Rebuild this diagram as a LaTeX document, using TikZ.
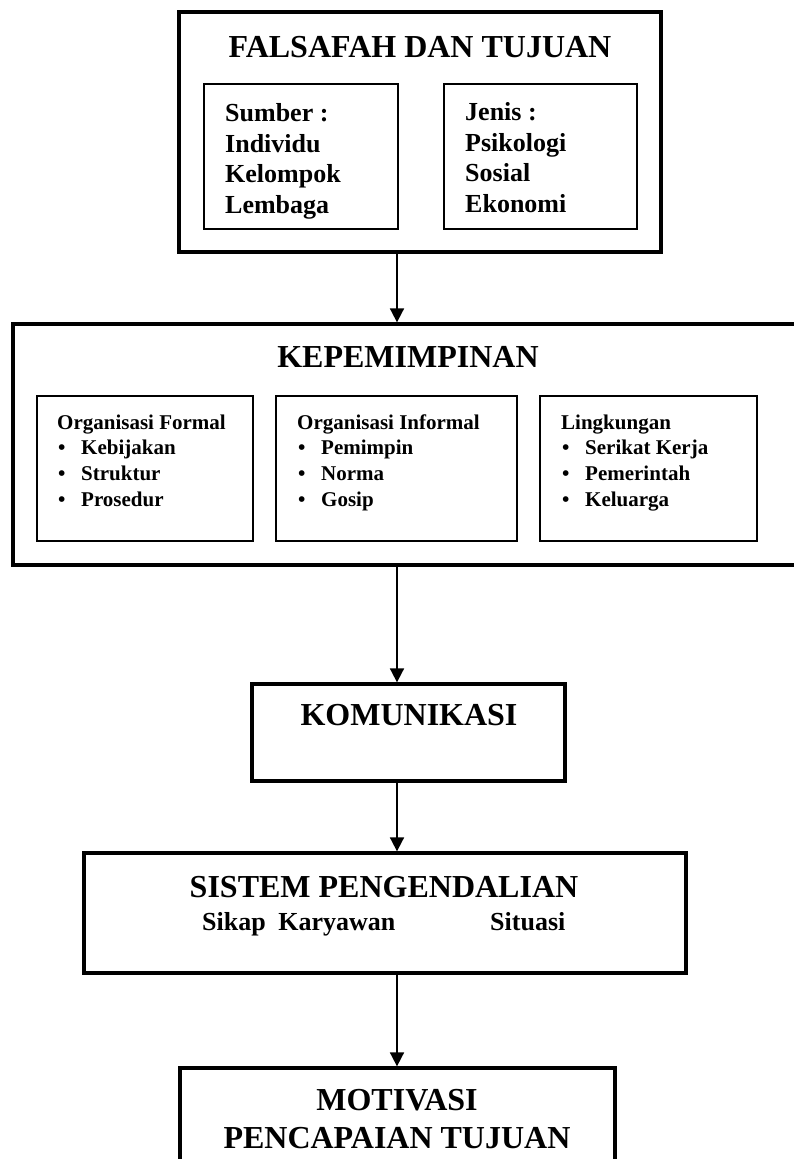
\documentclass[tikz,border=0pt]{standalone}
\usepackage{fontspec}
\setmainfont{Liberation Serif}
\usetikzlibrary{arrows.meta}

\tikzset{
  bigbox/.style={draw, line width=3.3pt, inner sep=0pt},
  smallbox/.style={draw, line width=1.8pt, inner sep=0pt},
  flow/.style={line width=1.8pt, -{Triangle[width=14pt,length=14pt]}},
  title/.style={font=\fontsize{32}{36}\selectfont\bfseries, inner sep=0pt, text height=21.5pt, text depth=0pt},
  bigline/.style={font=\fontsize{26}{30}\selectfont\bfseries, inner sep=0pt, anchor=west, text height=17pt, text depth=0pt},
  smallline/.style={font=\fontsize{21}{25}\selectfont\bfseries, inner sep=0pt, anchor=west, text height=14pt, text depth=0pt}
}

\begin{document}
\begin{tikzpicture}[x=1pt,y=-1pt]
    \useasboundingbox (0,0) rectangle (794,1159);
    \clip (0,0) rectangle (794,1159);
    \coordinate (axis) at (397,0);

    % Falsafah
    \node[bigbox, minimum width=482pt, minimum height=240pt] (falsafah) at (420,132) {};
    \node[smallbox, minimum width=194pt, minimum height=145pt] (sumber) at (301,156.5) {};
    \node[smallbox, minimum width=193pt, minimum height=145pt] (jenis) at (540.5,156.5) {};
    \node[title] (falsafah-t) at (420,47) {FALSAFAH DAN TUJUAN};
    \foreach \t [count=\i] in {Sumber :, Individu, Kelompok, Lembaga}
        \node[bigline] (sumber-\i) at (225,{82.3+30.7*\i}) {\t};
    \foreach \t [count=\i] in {Jenis :, Psikologi, Sosial, Ekonomi}
        \node[bigline] (jenis-\i) at (465,{81.3+30.7*\i}) {\t};

    % Kepemimpinan
    \node[bigbox, minimum width=792pt, minimum height=241pt] (kepemimpinan) at (409,444.5) {};
    \node[smallbox, minimum width=216pt, minimum height=145pt] (formal) at (145,468.5) {};
    \node[smallbox, minimum width=241pt, minimum height=145pt] (informal) at (396.5,468.5) {};
    \node[smallbox, minimum width=217pt, minimum height=145pt] (lingkungan) at (648.5,468.5) {};
    \node[title] (kepemimpinan-t) at (408,357) {KEPEMIMPINAN};
    \node[smallline] (formal-0) at (57,422) {Organisasi Formal};
    \node[smallline] (informal-0) at (297,422) {Organisasi Informal};
    \node[smallline] (lingkungan-0) at (561,422) {Lingkungan};
    \foreach \t [count=\i] in {Kebijakan, Struktur, Prosedur}
        \node[smallline] (formal-\i) at (58,{422+25.7*\i}) {\makebox[23pt][l]{\textbullet}\t};
    \foreach \t [count=\i] in {Pemimpin, Norma, Gosip}
        \node[smallline] (informal-\i) at (298,{422+25.7*\i}) {\makebox[23pt][l]{\textbullet}\t};
    \foreach \t [count=\i] in {Serikat Kerja, Pemerintah, Keluarga}
        \node[smallline] (lingkungan-\i) at (562,{422+25.7*\i}) {\makebox[23pt][l]{\textbullet}\t};

    % Komunikasi
    \node[bigbox, minimum width=313pt, minimum height=97pt] (komunikasi) at (408.5,732.5) {};
    \node[title] (komunikasi-t) at (409,715) {KOMUNIKASI};

    % Sistem pengendalian
    \node[bigbox, minimum width=602pt, minimum height=120pt] (sistem) at (385,913) {};
    \node[title] (sistem-t) at (384,887) {SISTEM PENGENDALIAN};
    \node[bigline] (sikap) at (202,922) {Sikap\hspace*{6pt} Karyawan};
    \node[bigline] (situasi) at (490,922) {Situasi};

    % Motivasi
    \node[bigbox, minimum width=435pt, minimum height=150pt] (motivasi) at (397.5,1143) {};
    \node[title] (motivasi-t) at (397,1100) {MOTIVASI};
    \node[title] (tujuan-t) at (397,1138) {PENCAPAIAN TUJUAN};

    % Panah
    \draw[flow] (falsafah.south -| axis) -- (kepemimpinan.north -| axis);
    \draw[flow] (kepemimpinan.south -| axis) -- (komunikasi.north -| axis);
    \draw[flow] (komunikasi.south -| axis) -- (sistem.north -| axis);
    \draw[flow] (sistem.south -| axis) -- (motivasi.north -| axis);
\end{tikzpicture}
\end{document}
